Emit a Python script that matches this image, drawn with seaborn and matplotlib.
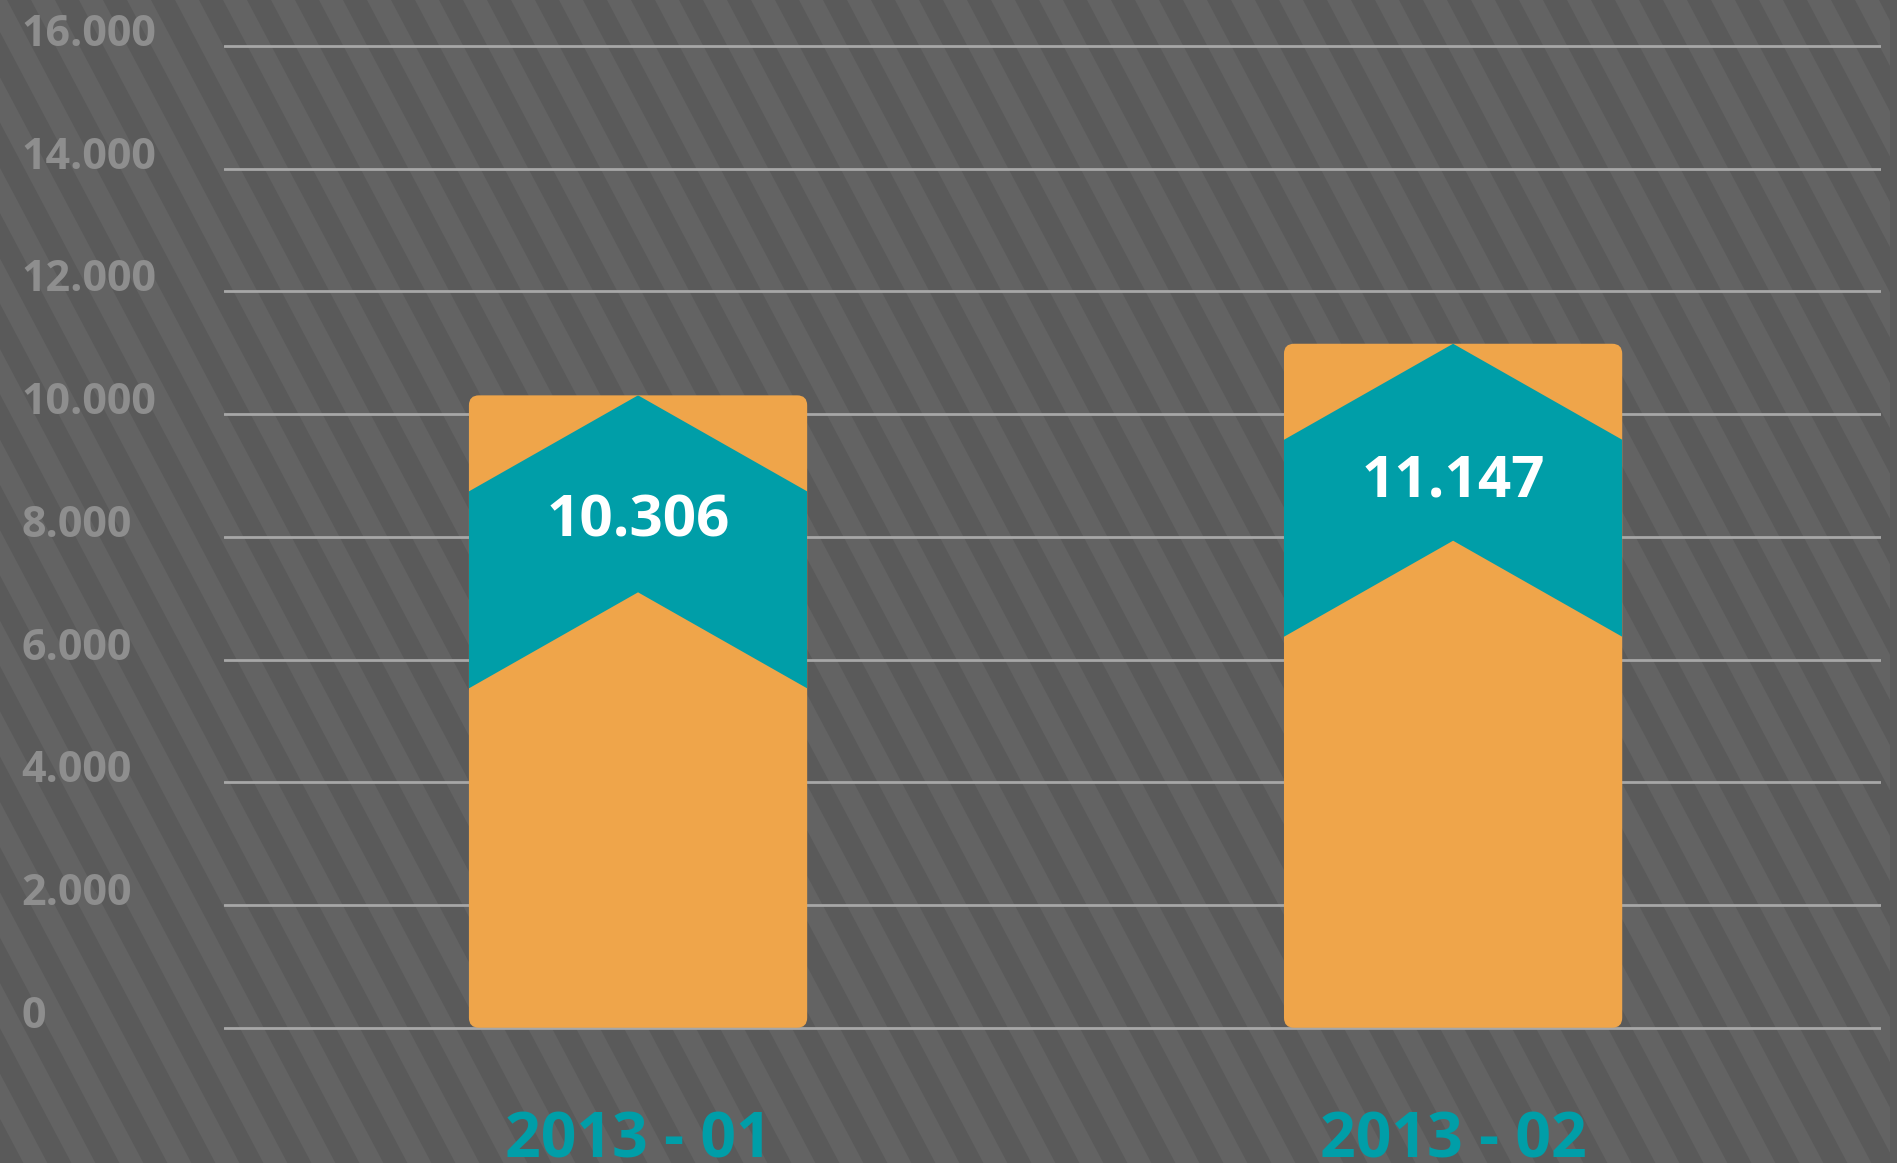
import matplotlib.pyplot as plt
import matplotlib.patches as mpatches
import numpy as np
import seaborn as sns

# data
months = ["2013 - 01", "2013 - 02"]
totals = [10306, 11147]
value_labels = ["10.306", "11.147"]
y_ticks = [0, 2000, 4000, 6000, 8000, 10000, 12000, 14000, 16000]
y_tick_labels = ["0", "2.000", "4.000", "6.000", "8.000",
                 "10.000", "12.000", "14.000", "16.000"]

ORANGE = "#efa54a"
TEAL = "#009ea8"
BG_DARK = "#5a5a5a"
BG_LIGHT = "#636363"
GRID = "#a7a7a7"
TICK = "#8e8e8e"

sns.set_theme(style="white")
plt.rcParams["font.family"] = ["Open Sans", "DejaVu Sans"]

W, H = 1897, 1163
fig = plt.figure(figsize=(W / 100, H / 100), dpi=100)
fig.patch.set_facecolor(BG_DARK)

# diagonal striped background
bg = fig.add_axes([0, 0, 1, 1], zorder=0)
bg.set_xlim(0, W)
bg.set_ylim(H, 0)
bg.axis("off")
slope = 0.53
clip = mpatches.Rectangle((0, 0), 1890, H, transform=bg.transData)
for x0 in np.arange(31 - 48 * 14, W + 48, 48):
    stripe = mpatches.Polygon([(x0, 0), (x0 + 24, 0),
                               (x0 + 24 + slope * H, H), (x0 + slope * H, H)],
                              closed=True, facecolor=BG_LIGHT, lw=0)
    bg.add_patch(stripe)
    stripe.set_clip_path(clip)

# main axes
left_px, right_px, top_px, bot_px = 224, 1881, 42.9, 1030.8
ax = fig.add_axes([left_px / W, 1 - bot_px / H,
                   (right_px - left_px) / W, (bot_px - top_px) / H], zorder=1)
ax.patch.set_alpha(0)

sns.barplot(x=months, y=totals, color=ORANGE, width=0.415, saturation=1, ax=ax)
xlim = (-0.508, 1.525)
ylim = (-50, 16050)
ax.set_xlim(*xlim)
ax.set_ylim(*ylim)

xppu = (right_px - left_px) / (xlim[1] - xlim[0])
yppu = (bot_px - top_px) / (ylim[1] - ylim[0])
depth = 1565   # chevron rise
band = 3210    # chevron thickness

for bar, lab in zip(list(ax.patches), value_labels):
    x0, w, h = bar.get_x(), bar.get_width(), bar.get_height()
    bar.remove()
    rounded = mpatches.FancyBboxPatch(
        (x0, 0), w, h,
        boxstyle=f"round,pad=0,rounding_size={10 / xppu}",
        mutation_aspect=xppu / yppu, facecolor=ORANGE, lw=0, zorder=3)
    ax.add_patch(rounded)
    xc = x0 + w / 2
    x1 = x0 + w
    chev = mpatches.Polygon([(x0, h - depth), (xc, h), (x1, h - depth),
                             (x1, h - depth - band), (xc, h - band),
                             (x0, h - depth - band)],
                            closed=True, facecolor=TEAL, lw=0, zorder=4)
    ax.add_patch(chev)
    chev.set_clip_path(rounded)
    ax.text(xc, h * 0.777, lab, ha="center", va="baseline", color="white",
            fontsize=42, fontweight="bold", zorder=5)

ax.set_axisbelow(True)
ax.yaxis.grid(True, color=GRID, lw=2.0)
ax.xaxis.grid(False)
sns.despine(ax=ax, left=True, bottom=True)
ax.set_yticks(y_ticks, y_tick_labels)
ax.tick_params(axis="y", length=0, pad=146, labelsize=31, labelcolor=TICK)
for lbl in ax.get_yticklabels():
    lbl.set_ha("left")
    lbl.set_va("baseline")
    lbl.set_fontweight("bold")
ax.tick_params(axis="x", length=0, pad=57, labelsize=45, labelcolor=TEAL)
for lbl in ax.get_xticklabels():
    lbl.set_fontweight("bold")
ax.set_xlabel("")
ax.set_ylabel("")

fig.savefig("out.png", dpi=100, facecolor=fig.get_facecolor())
